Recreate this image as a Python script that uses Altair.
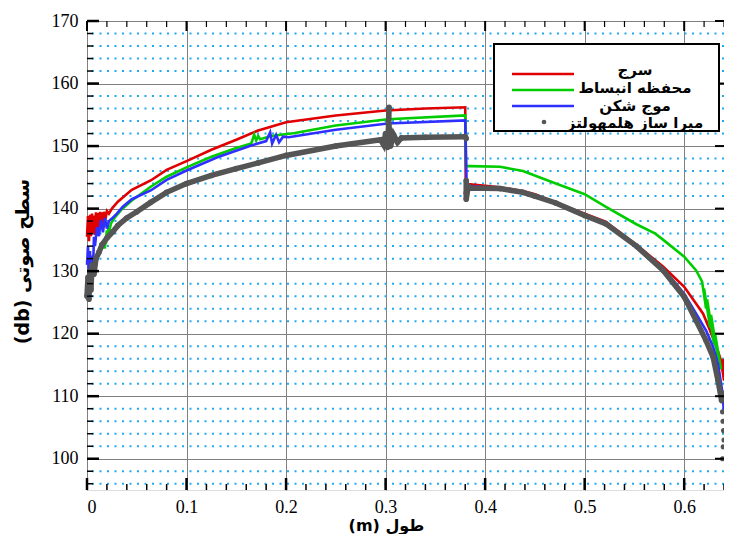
import altair as alt
import pandas as pd

# ---------------- data ----------------
red_x = [0.000,0.001,0.002,0.003,0.004,0.005,0.006,0.007,0.008,0.009,0.010,0.011,0.012,0.013,0.014,0.015,0.016,0.017,0.018,0.020,0.022,0.025,0.031,0.045,0.064,0.080,0.100,0.125,0.150,0.172,0.200,0.250,0.300,0.340,0.380,0.3805,0.385,0.415,0.438,0.450,0.471,0.500,0.521,0.552,0.579,0.600,0.612,0.619,0.626,0.6325,0.637,0.640,0.6395,0.640]
red_y = [135.5,138.8,134.8,139.0,135.6,139.2,136.0,138.9,135.8,139.4,136.4,139.3,136.6,139.5,137.0,139.4,137.3,139.5,137.8,139.6,139.2,140.0,141.1,143.0,144.5,146.2,147.6,149.4,151.0,152.5,153.8,154.9,155.7,156.0,156.2,143.8,143.9,143.4,142.8,142.3,141.0,139.2,137.9,134.2,130.7,127.5,124.8,123.2,120.5,117.9,115.7,112.5,116.0,113.0]

green_x = [0.015,0.018,0.020,0.019,0.022,0.021,0.024,0.028,0.035,0.045,0.064,0.080,0.100,0.125,0.150,0.165,0.168,0.170,0.172,0.174,0.185,0.209,0.250,0.302,0.380,0.3808,0.385,0.415,0.438,0.471,0.500,0.521,0.552,0.571,0.579,0.600,0.612,0.618,0.622,0.620,0.626,0.623,0.630,0.627,0.634,0.631,0.637]
green_y = [133.8,133.8,136.5,134.4,137.2,135.4,137.6,138.6,139.9,141.3,143.5,145.1,146.6,148.3,149.7,150.4,151.8,150.9,151.6,151.1,151.6,152.1,153.3,154.3,154.9,146.8,146.8,146.7,146.0,144.0,142.3,140.3,137.5,136.0,135.0,132.3,130.1,128.3,124.0,127.2,121.0,125.5,118.3,123.0,116.0,120.0,114.3]

blue_x = [0.000,0.001,0.002,0.003,0.004,0.005,0.006,0.007,0.008,0.010,0.012,0.014,0.016,0.018,0.020,0.022,0.025,0.030,0.036,0.045,0.064,0.080,0.100,0.131,0.165,0.180,0.184,0.186,0.190,0.193,0.197,0.2025,0.250,0.302,0.380,0.3815,0.383,0.415,0.438,0.471,0.500,0.521,0.552,0.579,0.600,0.612,0.622,0.629,0.634,0.6386,0.640]
blue_y = [131.0,134.0,129.0,133.2,128.5,132.5,130.0,135.5,134.0,137.0,135.6,138.2,136.2,138.5,136.8,138.0,138.4,139.2,140.3,141.5,142.9,144.6,146.1,148.2,150.1,150.8,152.2,150.4,151.8,150.6,151.5,151.4,152.6,153.6,154.1,143.4,143.6,143.2,142.6,140.9,139.0,137.5,133.9,130.4,126.4,123.2,120.5,117.9,115.2,110.4,107.2]

# Helmholtz resonator (dots): before the step at x=0.38, after it, and the scattered tail
gray_left_x = [0.000,0.001,0.002,0.003,0.004,0.005,0.007,0.009,0.012,0.015,0.020,0.026,0.031,0.040,0.050,0.064,0.080,0.100,0.125,0.150,0.172,0.200,0.250,0.295,0.298,0.300,0.302,0.303,0.3035,0.303,0.304,0.305,0.308,0.312,0.316,0.340,0.380,0.381]
gray_left_y = [126.0,129.0,125.5,130.0,127.0,131.0,129.5,132.0,133.0,134.2,135.3,136.3,137.3,138.5,139.5,141.0,142.6,144.0,145.3,146.4,147.3,148.5,150.0,151.0,150.2,152.0,149.8,153.5,156.2,154.0,152.2,150.0,151.8,150.6,151.3,151.4,151.5,151.2]
gray_right_x = [0.381,0.381,0.381,0.383,0.385,0.415,0.438,0.450,0.471,0.500,0.521,0.552,0.579,0.600,0.612,0.622,0.629,0.634,0.6376]
gray_right_y = [144.5,142.5,141.5,143.6,143.3,143.2,142.6,142.0,140.9,138.9,137.6,134.0,130.1,125.9,122.1,118.9,116.3,112.5,109.3]
gray_tail_x = [0.6385,0.639,0.6395,0.640,0.6392,0.6385,0.6398]
gray_tail_y = [107.5,106.0,104.5,103.0,101.9,100.0,110.5]

series_names = ["سرج", "محفظه انبساط", "موج شکن", "میرا ساز هلمهولتز"]
series_colors = ["#e00000", "#00cc00", "#2f2fff", "#555555"]

x_major = [0, 0.1, 0.2, 0.3, 0.4, 0.5, 0.6]
x_minor = [round(0.02 * i, 2) for i in range(1, 33) if i % 5 != 0]
y_major = [100, 110, 120, 130, 140, 150, 160, 170]
y_minor = [v for v in range(96, 170, 2) if v % 10 != 0]

W, H = 637, 469
NUM_FONT = "Liberation Serif, DejaVu Serif, serif"

def frame(xs, ys):
    return pd.DataFrame({"x": xs, "y": ys, "i": list(range(len(xs)))})

xscale = alt.Scale(domain=[0, 0.64], nice=False, zero=False)
yscale = alt.Scale(domain=[95, 170], nice=False, zero=False)
X = alt.X("x:Q", scale=xscale, axis=alt.Axis(
    values=x_major, format="~g", grid=True, gridColor="#808080", gridWidth=1,
    ticks=False, domain=False, labelFont=NUM_FONT, labelFontSize=18,
    labelColor="black", labelPadding=8, title="(m) طول", titleFont="DejaVu Sans",
    titleFontSize=16, titleFontWeight="bold", titleColor="black",
    titleX=299, titleY=35, titleBaseline="middle", titleAlign="center"))
Y = alt.Y("y:Q", scale=yscale, axis=alt.Axis(
    values=y_major, grid=True, gridColor="#808080", gridWidth=1,
    ticks=False, domain=False, labelFont=NUM_FONT, labelFontSize=18,
    labelColor="black", labelPadding=9, title="(db) سطح صوتی", titleFont="DejaVu Sans",
    titleFontSize=19, titleFontWeight="bold", titleColor="black",
    titleX=-65, titleY=240, titleAngle=270, titleAlign="center", titleBaseline="middle"))

layers = []
# dotted minor horizontal grid
layers.append(alt.Chart(pd.DataFrame({"y": y_minor})).mark_rule(
    color="#22aaee", strokeWidth=2, strokeDash=[2, 5.5]).encode(y=Y))

# data lines
for xs, ys, col in [(red_x, red_y, series_colors[0]), (green_x, green_y, series_colors[1]),
                    (blue_x, blue_y, series_colors[2])]:
    layers.append(alt.Chart(frame(xs, ys)).mark_line(color=col, strokeWidth=2.6).encode(
        x=X, y=Y, order=alt.Order("i:Q")))
for gx, gy in [(gray_left_x, gray_left_y), (gray_right_x, gray_right_y)]:
    gdf = frame(gx, gy)
    layers.append(alt.Chart(gdf).mark_line(color=series_colors[3], strokeWidth=5.5).encode(
        x=X, y=Y, order=alt.Order("i:Q")))
    layers.append(alt.Chart(gdf).mark_circle(color=series_colors[3], size=32, opacity=1).encode(
        x=X, y=Y))
layers.append(alt.Chart(frame(gray_tail_x, gray_tail_y)).mark_circle(
    color=series_colors[3], size=26, opacity=1).encode(x=X, y=Y))

# inward ticks
xmaj = pd.DataFrame({"x": x_major})
xmin = pd.DataFrame({"x": x_minor})
ymaj = pd.DataFrame({"y": y_major})
ymin = pd.DataFrame({"y": y_minor})
layers.append(alt.Chart(xmaj).mark_rule(color="black", strokeWidth=2.5).encode(
    x=X, y=alt.value(H), y2=alt.value(H - 12)))
layers.append(alt.Chart(xmin).mark_rule(color="black", strokeWidth=1.5).encode(
    x=X, y=alt.value(H), y2=alt.value(H - 6)))
layers.append(alt.Chart(xmaj).mark_rule(color="black", strokeWidth=2).encode(
    x=X, y=alt.value(0), y2=alt.value(10)))
layers.append(alt.Chart(xmin).mark_rule(color="black", strokeWidth=1.2).encode(
    x=X, y=alt.value(0), y2=alt.value(6)))
layers.append(alt.Chart(ymaj).mark_rule(color="black", strokeWidth=2.5).encode(
    y=Y, x=alt.value(0), x2=alt.value(12)))
layers.append(alt.Chart(ymin).mark_rule(color="black", strokeWidth=1.5).encode(
    y=Y, x=alt.value(0), x2=alt.value(6)))
layers.append(alt.Chart(ymaj).mark_rule(color="black", strokeWidth=2).encode(
    y=Y, x=alt.value(W), x2=alt.value(W - 9)))

# legend (manual)
one = pd.DataFrame({"a": [0]})
layers.append(alt.Chart(one).mark_rect(fill="white", stroke="black", strokeWidth=2).encode(
    x=alt.value(407), x2=alt.value(632), y=alt.value(23), y2=alt.value(110)))
line_ys = [53, 69, 85]
for k in range(3):
    layers.append(alt.Chart(one).mark_rule(color=series_colors[k], strokeWidth=2.6).encode(
        x=alt.value(425), x2=alt.value(487), y=alt.value(line_ys[k])))
layers.append(alt.Chart(one).mark_circle(color=series_colors[3], size=22, opacity=1).encode(
    x=alt.value(457), y=alt.value(101)))
text_ys = [49, 67, 85, 102]
for k in range(4):
    layers.append(alt.Chart(one).mark_text(
        text=series_names[k], font="DejaVu Sans", fontSize=15, fontWeight="bold",
        color="black", align="center", baseline="middle").encode(
        x=alt.value(548), y=alt.value(text_ys[k])))

chart = alt.layer(*layers).properties(
    width=W, height=H,
    autosize=alt.AutoSizeParams(type="none"),
    padding={"left": 79, "top": 13, "right": 0, "bottom": 44},
).configure_view(stroke="black", strokeWidth=2.5).configure(background="white")

chart.save("out.html", embed_options={"renderer": "svg", "actions": False})
